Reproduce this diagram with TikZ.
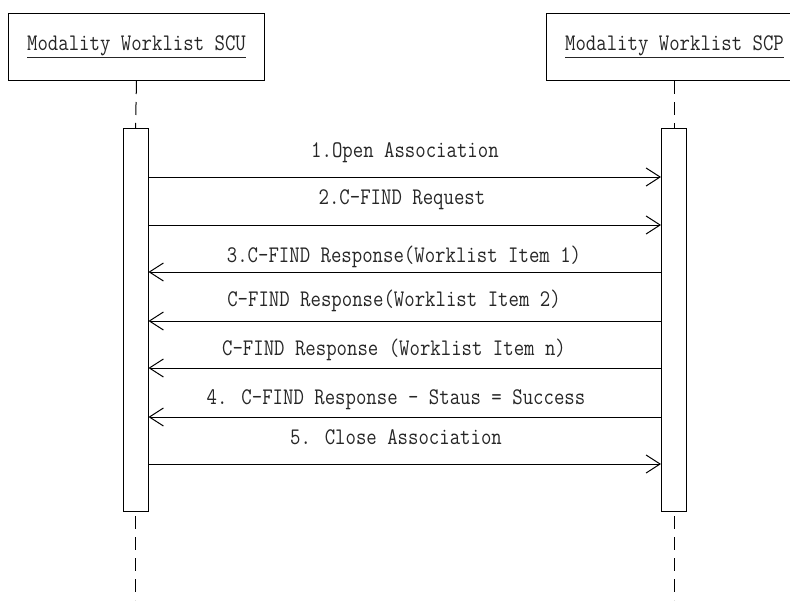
\documentclass[tikz,border=0pt]{standalone}
\usepackage{fontspec}
\newfontfamily\dfont[FakeStretch=0.85]{Latin Modern Mono}
\usetikzlibrary{arrows.meta}
\begin{document}
\begin{tikzpicture}[x=1pt,y=-1pt,
  every node/.style={font=\dfont\fontsize{23.8}{26}\selectfont, text=black!85},
  actor/.style={draw, line width=1pt, minimum width=256pt, minimum height=67pt, anchor=north west, inner sep=0pt},
  actbar/.style={draw, line width=1pt, fill=white, minimum width=25pt, minimum height=383pt, anchor=north, inner sep=0pt},
  lifeline/.style={line width=1pt, dash pattern=on 13pt off 8pt},
  msg/.style={line width=1pt, -{Straight Barb[length=14pt,width=18pt]}},
  lbl/.style={anchor=base, inner sep=0pt}]
\useasboundingbox (0,0) rectangle (790,600);
\clip (0,0) rectangle (790,600);
\node[actor] (scu) at (8,13) {\underline{Modality Worklist SCU}};
\node[actor] (scp) at (546,13) {\underline{Modality Worklist SCP}};
\node[actbar] (la) at (135.5,128) {};
\node[actbar] (ra) at (674,128) {};
\coordinate (lend) at (135.5,600);
\coordinate (rend) at (674,600);
\draw[lifeline] (scu.south) -- (la.north);
\draw[lifeline] (scp.south -| ra.north) -- (ra.north);
\draw[lifeline, dash phase=-4pt] (la.south) -- (lend);
\draw[lifeline, dash phase=-4pt] (ra.south) -- (rend);
% messages
\draw[msg] (la.east |- 0,177) -- (ra.west |- 0,177);
\draw[msg] (la.east |- 0,225) -- (ra.west |- 0,225);
\draw[msg] (ra.west |- 0,272) -- (la.east |- 0,272);
\draw[msg] (ra.west |- 0,321) -- (la.east |- 0,321);
\draw[msg] (ra.west |- 0,368) -- (la.east |- 0,368);
\draw[msg] (ra.west |- 0,417) -- (la.east |- 0,417);
\draw[msg] (la.east |- 0,464) -- (ra.west |- 0,464);
% labels
\node[lbl] (m1) at (405,157) {1.Open Association};
\node[lbl] (m2) at (402,204) {2.C-FIND Request};
\node[lbl] (m3) at (404,262) {3.C-FIND Response(Worklist Item 1)};
\node[lbl] (m4) at (394,306) {C-FIND Response(Worklist Item 2)};
\node[lbl] (m5) at (394,355) {C-FIND Response (Worklist Item n)};
\node[lbl] (m6) at (396,404) {4. C-FIND Response - Staus = Success};
\node[lbl] (m7) at (396,444) {5. Close Association};
\end{tikzpicture}
\end{document}
